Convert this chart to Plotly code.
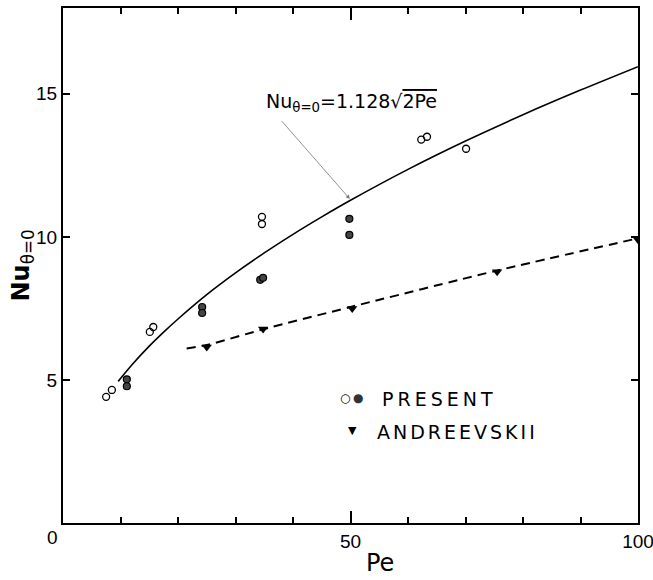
import plotly.graph_objects as go

# ---- data ----
open_pe = [7.5, 8.5, 15.1, 15.7, 34.6, 34.6, 62.3, 63.3, 70.1]
open_nu = [4.41, 4.65, 6.68, 6.85, 10.7, 10.45, 13.4, 13.5, 13.08]

filled_pe = [11.1, 11.1, 24.2, 24.2, 34.3, 34.8, 49.8, 49.8]
filled_nu = [5.02, 4.78, 7.55, 7.34, 8.5, 8.57, 10.63, 10.07]

andr_pe = [25, 34.8, 50.3, 75.5, 100]
andr_nu = [6.15, 6.78, 7.5, 8.78, 9.9]

andr_line_pe = [21.5, 25, 35, 50, 75, 100]
andr_line_nu = [6.1, 6.22, 6.78, 7.55, 8.8, 9.95]

theory_pe = [9.6, 12, 15, 17.5, 20, 25, 30, 35, 40, 45, 50, 60, 70, 80, 90, 100]
theory_nu = [4.95, 5.53, 6.18, 6.67, 7.13, 7.98, 8.74, 9.44, 10.09, 10.7, 11.28,
             12.36, 13.35, 14.27, 15.13, 15.95]

x_ticks = [50, 100]
x_ticklabels = ["50", "100"]
x_minor_ticks = [10, 20, 30, 40, 60, 70, 80, 90]
y_ticks = [5, 10, 15]
y_ticklabels = ["5", "10", "15"]

FONT = "Liberation Sans"
FONT2 = "DejaVu Sans"

fig = go.Figure()

fig.add_trace(go.Scatter(x=theory_pe, y=theory_nu, mode="lines",
                         line=dict(color="black", width=1.6, shape="spline", smoothing=0.8),
                         showlegend=False, hoverinfo="skip"))
fig.add_trace(go.Scatter(x=andr_line_pe, y=andr_line_nu, mode="lines",
                         line=dict(color="black", width=2, dash="9px,6px", shape="spline",
                                   smoothing=0.6),
                         showlegend=False, hoverinfo="skip"))
fig.add_trace(go.Scatter(x=open_pe, y=open_nu, mode="markers", name="PRESENT",
                         marker=dict(symbol="circle-open", size=7, color="black",
                                     line=dict(width=1.3, color="black")),
                         showlegend=False))
fig.add_trace(go.Scatter(x=filled_pe, y=filled_nu, mode="markers", name="PRESENT",
                         marker=dict(symbol="circle", size=7, color="#444444",
                                     line=dict(width=1.2, color="black")),
                         showlegend=False))
fig.add_trace(go.Scatter(x=andr_pe, y=andr_nu, mode="markers", name="ANDREEVSKII",
                         marker=dict(symbol="triangle-down", size=9, color="black",
                                     line=dict(width=0)),
                         showlegend=False))

axis_common = dict(showgrid=False, zeroline=False, showline=True, linecolor="black",
                   linewidth=2, mirror="ticks", ticks="inside", tickcolor="black",
                   tickwidth=1.5, ticklabeloverflow="allow", automargin=False,
                   tickfont=dict(family=FONT, size=19, color="black"))

fig.update_xaxes(range=[0, 100], tickmode="array", tickvals=x_ticks, ticktext=x_ticklabels,
                 ticklen=12,
                 minor=dict(tickmode="array", tickvals=x_minor_ticks,
                            ticks="inside", ticklen=6, tickwidth=1.5, tickcolor="black"),
                 **axis_common)
fig.update_yaxes(range=[0, 18], tickmode="array", tickvals=y_ticks, ticktext=y_ticklabels,
                 ticklen=7, **axis_common)

annotations = [
    # corner zero
    dict(x=0, y=0, xref="x", yref="y", text="0", showarrow=False, xshift=-11, yshift=-14,
         font=dict(family=FONT, size=19, color="black")),
    # axis titles
    dict(x=0.552, y=0, xref="paper", yref="paper", text="Pe", showarrow=False,
         xanchor="center", yanchor="middle", yshift=-40,
         font=dict(family=FONT2, size=24, color="black")),
    dict(x=0, y=0.50, xref="paper", yref="paper", text="<b>Nu</b><sub>θ=0</sub>",
         textangle=-90, showarrow=False, xanchor="center", yanchor="middle", xshift=-41,
         font=dict(family=FONT2, size=24, color="black")),
    # formula label + arrow
    dict(x=50, y=11.3, xref="x", yref="y", text="", showarrow=True, ax=-70, ay=-80,
         arrowhead=2, arrowsize=1, arrowwidth=0.8, arrowcolor="#777777", standoff=1),
    dict(x=50, y=11.3, xref="x", yref="y",
         text="Nu<sub>θ=0</sub>=1.128√<span style='text-decoration:overline'>2Pe</span>",
         showarrow=False, xshift=1, yshift=97,
         font=dict(family=FONT2, size=19, color="black")),
    # legend
    dict(x=50, y=5, xref="x", yref="y", text="○", showarrow=False, xshift=-5.5, yshift=-18,
         font=dict(family=FONT2, size=12, color="black")),
    dict(x=50, y=5, xref="x", yref="y", text="●", showarrow=False, xshift=7.5, yshift=-18,
         font=dict(family=FONT2, size=12, color="#333333")),
    dict(x=50, y=5, xref="x", yref="y",
         text="<span style='letter-spacing:4px'>PRESENT</span>", showarrow=False,
         xanchor="left", xshift=29, yshift=-19,
         font=dict(family=FONT2, size=19, color="black")),
    dict(x=50, y=5, xref="x", yref="y", text="▼", showarrow=False, xshift=1.5, yshift=-51,
         font=dict(family=FONT2, size=11, color="black")),
    dict(x=50, y=5, xref="x", yref="y",
         text="<span style='letter-spacing:3px'>ANDREEVSKII</span>", showarrow=False,
         xanchor="left", xshift=24, yshift=-52,
         font=dict(family=FONT2, size=19, color="black")),
]

fig.update_layout(width=653, height=580, margin=dict(l=63, r=15, t=8, b=57),
                  plot_bgcolor="white", paper_bgcolor="white",
                  annotations=annotations, showlegend=False)

fig.write_html("out.html")
